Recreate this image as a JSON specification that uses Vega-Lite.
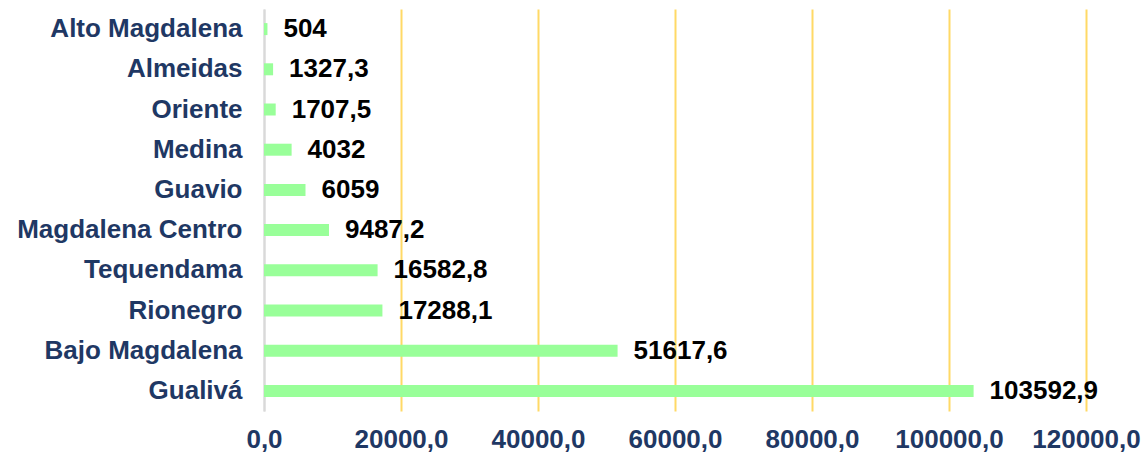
{
  "$schema": "https://vega.github.io/schema/vega-lite/v6.json",
  "width": 822,
  "height": 402,
  "autosize": {"type": "none"},
  "padding": {"left": 264, "top": 9, "right": 60, "bottom": 47},
  "background": "white",
  "config": {
    "locale": {"number": {"decimal": ",", "thousands": ".", "grouping": [3], "currency": ["", ""]}},
    "view": {"stroke": null},
    "font": "Liberation Sans"
  },
  "data": {
    "values": [
      {"region": "Alto Magdalena", "value": 504},
      {"region": "Almeidas", "value": 1327.3},
      {"region": "Oriente", "value": 1707.5},
      {"region": "Medina", "value": 4032},
      {"region": "Guavio", "value": 6059},
      {"region": "Magdalena Centro", "value": 9487.2},
      {"region": "Tequendama", "value": 16582.8},
      {"region": "Rionegro", "value": 17288.1},
      {"region": "Bajo Magdalena", "value": 51617.6},
      {"region": "Gualivá", "value": 103592.9}
    ]
  },
  "encoding": {
    "y": {
      "field": "region", "type": "nominal", "sort": "x", "title": null,
      "axis": {
        "ticks": false, "domain": true, "domainColor": "#d9d9d9", "domainWidth": 2,
        "labelFont": "Liberation Sans", "labelFontSize": 26, "labelFontWeight": "bold",
        "labelColor": "#1f3864", "labelPadding": 22, "labelLimit": 400
      }
    },
    "x": {
      "field": "value", "type": "quantitative", "title": null,
      "scale": {"domain": [0, 120000], "nice": false},
      "axis": {
        "values": [0, 20000, 40000, 60000, 80000, 100000, 120000],
        "format": ".1f", "ticks": false, "domain": false,
        "grid": true, "gridWidth": 2,
        "gridColor": {"condition": {"test": "datum.value === 0", "value": "#d9d9d9"}, "value": "#ffd966"},
        "labelFont": "Liberation Sans", "labelFontSize": 26, "labelFontWeight": "bold",
        "labelColor": "#1f3864", "labelPadding": 15, "labelFlush": false
      }
    }
  },
  "layer": [
    {"mark": {"type": "bar", "color": "#99ff99", "size": 12}},
    {
      "mark": {"type": "text", "align": "left", "baseline": "middle", "dx": 16, "font": "Liberation Sans", "fontSize": 26, "fontWeight": "bold", "color": "black"},
      "encoding": {"text": {"field": "value", "type": "quantitative", "format": ".1~f"}}
    }
  ]
}
